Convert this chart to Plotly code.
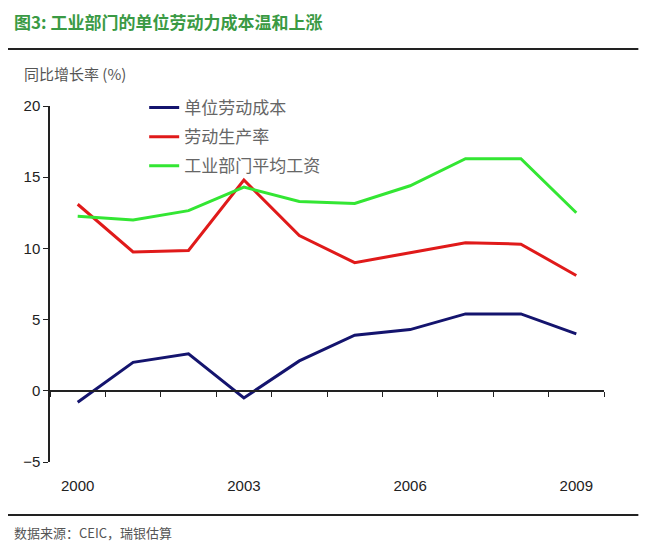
import plotly.graph_objects as go

years = [2000, 2001, 2002, 2003, 2004, 2005, 2006, 2007, 2008, 2009]
unit_labor_cost = [-0.8, 2.0, 2.6, -0.5, 2.1, 3.9, 4.3, 5.4, 5.4, 4.0]
labor_productivity = [13.1, 9.75, 9.85, 14.8, 10.9, 9.0, 9.7, 10.4, 10.3, 8.1]
avg_wage = [12.25, 12.0, 12.65, 14.3, 13.3, 13.15, 14.4, 16.3, 16.3, 12.5]

series_names = ["单位劳动成本", "劳动生产率", "工业部门平均工资"]
x_tick_labels = [2000, 2003, 2006, 2009]
y_ticks = [-5, 0, 5, 10, 15, 20]

font_cjk = "Noto Sans CJK SC, Arial, sans-serif"

fig = go.Figure()
for name, vals, color, grp in zip(series_names,
                                  [unit_labor_cost, labor_productivity, avg_wage],
                                  ["#14146e", "#e01a1a", "#33e633"],
                                  ["a", "b", "c"]):
    fig.add_trace(go.Scatter(x=years, y=vals, mode="lines", name=name,
                             legendgroup=grp,
                             line=dict(color=color, width=3)))

# page has an 8px body margin, so margins are shifted by -8
fig.update_layout(
    width=650, height=553,
    plot_bgcolor="white", paper_bgcolor="white",
    margin=dict(l=42, r=54, t=98, b=99, autoexpand=False),
    font=dict(family=font_cjk, color="#333"),
    showlegend=True,
    legend=dict(x=0.17, y=1.045, xanchor="left", yanchor="top",
                bgcolor="rgba(0,0,0,0)", tracegroupgap=4,
                font=dict(size=17, color="#666", family=font_cjk)),
    xaxis=dict(range=[1999.5, 2009.5], tickvals=x_tick_labels,
               showline=False, showgrid=False, zeroline=False, ticks="",
               tickfont=dict(size=15, color="#222", family="Arial"),
               ticklabelstandoff=13),
    xaxis2=dict(range=[1999.5, 2009.5], overlaying="x", anchor="free",
                position=0.2, side="bottom", tick0=1999.5, dtick=1,
                ticks="outside", ticklen=5, tickcolor="#222",
                showline=True, linecolor="#222", linewidth=1.5,
                showticklabels=False, showgrid=False, zeroline=False),
    yaxis=dict(range=[-5, 20], tickvals=y_ticks, showgrid=False, zeroline=False,
               showline=True, linecolor="#222", linewidth=1.5,
               ticks="outside", ticklen=5, tickcolor="#222",
               tickfont=dict(size=15, color="#222", family="Arial")),
)

# dummy trace so the overlaying axis renders
fig.add_trace(go.Scatter(x=[years[0]], y=[None], xaxis="x2", showlegend=False,
                         hoverinfo="skip"))

fig.add_annotation(text="<b>图3: 工业部门的单位劳动力成本温和上涨</b>",
                   xref="paper", yref="paper", x=-0.066, y=1.2749,
                   xanchor="left", yanchor="top", showarrow=False, borderpad=0,
                   font=dict(size=17, color="#3a9a44", family=font_cjk))
fig.add_annotation(text="同比增长率 (%)", xref="paper", yref="paper",
                   x=-0.05, y=1.0, yshift=33, xanchor="left", yanchor="middle",
                   showarrow=False, font=dict(size=15, color="#555", family=font_cjk))
fig.add_annotation(text="数据来源：CEIC，瑞银估算", xref="paper", yref="paper",
                   x=-0.068, y=0, yshift=-70, xanchor="left", yanchor="middle",
                   showarrow=False, font=dict(size=13, color="#555", family=font_cjk))

fig.add_shape(type="line", xref="paper", yref="paper",
              x0=-0.0758, x1=1.062, y0=1.16, y1=1.16,
              line=dict(color="#222", width=2))
fig.add_shape(type="line", xref="paper", yref="paper",
              x0=-0.0758, x1=1.062, y0=-0.149, y1=-0.149,
              line=dict(color="#222", width=2))

fig.write_html("out.html")
